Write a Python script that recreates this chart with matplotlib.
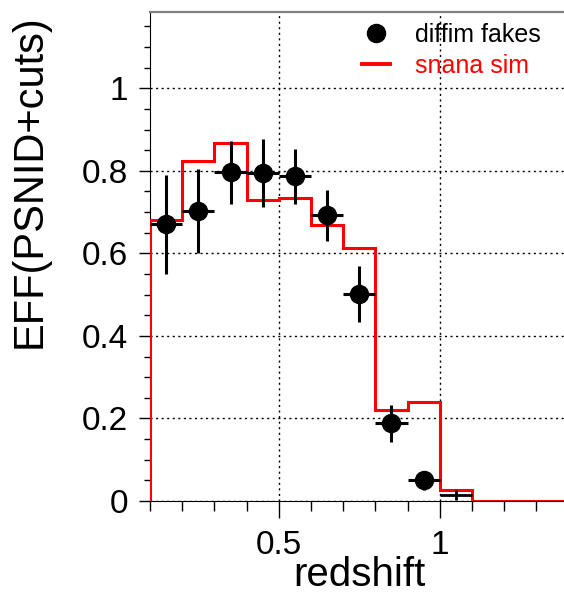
import numpy as np
import matplotlib.pyplot as plt
from matplotlib.lines import Line2D
from matplotlib.ticker import MultipleLocator, FixedLocator

plt.rcParams['font.family'] = ['Liberation Sans', 'DejaVu Sans']

# redshift bins (width 0.1)
bin_edges = [0.1, 0.2, 0.3, 0.4, 0.5, 0.6, 0.7, 0.8, 0.9, 1.0, 1.1, 1.2, 1.3, 1.4]
sim_eff = [0.680, 0.824, 0.867, 0.730, 0.733, 0.668, 0.614, 0.220, 0.239, 0.027, 0.0, 0.0, 0.0]

fake_z = [0.15, 0.25, 0.35, 0.45, 0.55, 0.65, 0.75, 0.85, 0.95]
fake_eff = [0.670, 0.703, 0.796, 0.795, 0.787, 0.692, 0.502, 0.188, 0.050]
fake_err = [0.120, 0.102, 0.076, 0.082, 0.067, 0.061, 0.068, 0.044, 0.023]

# last bin: tiny value, no visible marker
last_z = [1.05]
last_eff = [0.015]
last_err = [0.012]

fig = plt.figure(figsize=(5.64, 5.95), dpi=100)
ax = fig.add_axes([0.266, 0.158, 0.742, 0.822])

ax.stairs(sim_eff, bin_edges, baseline=0, color='#ff0000', lw=2.2, zorder=3)

ax.errorbar(fake_z, fake_eff, yerr=fake_err, xerr=0.05, fmt='o', color='black',
            ms=13, elinewidth=2.2, capsize=0, zorder=4)
ax.errorbar(last_z, last_eff, yerr=last_err, xerr=0.05, fmt='none', ecolor='black',
            elinewidth=2.0, capsize=0, zorder=4)

ax.set_xlim(0.1, 1.4)
ax.set_ylim(0, 1.185)

ax.xaxis.set_major_locator(FixedLocator([0.5, 1.0]))
ax.xaxis.set_minor_locator(MultipleLocator(0.1))
ax.yaxis.set_major_locator(FixedLocator([0, 0.2, 0.4, 0.6, 0.8, 1.0]))
ax.yaxis.set_minor_locator(MultipleLocator(0.05))
ax.set_xticklabels(['0.5', '1'])
ax.set_yticklabels(['0', '0.2', '0.4', '0.6', '0.8', '1'])

ax.tick_params(axis='x', which='major', length=12, width=1, direction='out', labelsize=24, pad=9)
ax.tick_params(axis='x', which='minor', length=7, width=1, direction='out')
ax.tick_params(axis='y', which='major', length=8, width=1, direction='out', labelsize=24, pad=8)
ax.tick_params(axis='y', which='minor', length=4.5, width=1, direction='out')

ax.grid(True, which='major', color='black', linestyle=(0, (1.5, 2.5)), linewidth=1)

ax.spines['right'].set_visible(False)
ax.spines['top'].set_color('#808080')
ax.spines['top'].set_linewidth(1.6)

ax.set_xlabel('redshift', fontsize=29, labelpad=-4)
ax.set_ylabel('EFF(PSNID+cuts)', fontsize=30)
ax.yaxis.set_label_coords(-0.24, 0.654)

handles = [
    Line2D([], [], marker='o', color='black', ls='none', ms=13),
    Line2D([], [], color='#ff0000', lw=2.8),
]
leg = ax.legend(handles, ['diffim fakes', 'snana sim'], loc='upper right',
                bbox_to_anchor=(0.933, 0.978), borderaxespad=0, borderpad=0,
                frameon=False, fontsize=18,
                handlelength=1.1, handletextpad=1.0, labelspacing=0.3)
leg.get_texts()[1].set_color('#ff0000')

fig.savefig('out.png', dpi=100)
